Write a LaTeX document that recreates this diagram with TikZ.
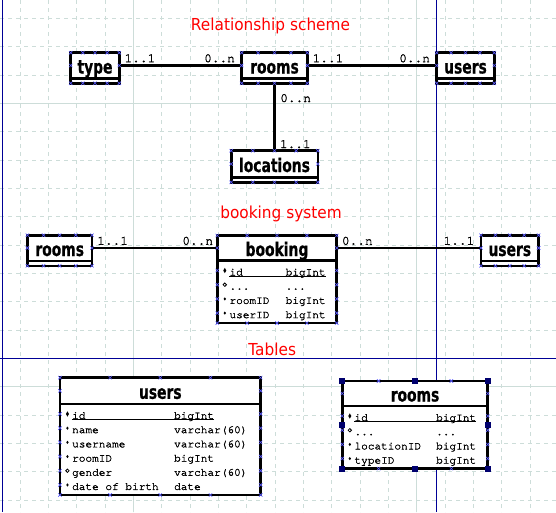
\documentclass[tikz,border=0pt]{standalone}
\usepackage{fontspec}
\usepackage{tikz}
\usetikzlibrary{calc,shapes.geometric}
\newfontfamily\headfont[FakeStretch=0.93]{DejaVu Sans}
\newfontfamily\entfont[FakeStretch=0.73, FakeBold=0.6]{DejaVu Sans Bold}
\newfontfamily\codefont[FakeBold=1.6]{texgyrecursor-regular.otf}
\definecolor{gridcol}{RGB}{205,221,217}
\definecolor{pagecol}{RGB}{0,0,150}
\definecolor{selcol}{RGB}{90,90,255}
\definecolor{gripcol}{RGB}{0,0,110}
\newcommand{\skipdots}{...}

\begin{document}
\begin{tikzpicture}[x=1pt, y=-1pt]
        % Define node styles
        \tikzstyle{entity} = [draw, line width=2.6pt, fill=white, rectangle, inner sep=0pt, outer sep=0pt, minimum height=25.6pt, text height=16pt, text depth=0pt, font=\entfont\fontsize{19pt}{19pt}\selectfont]
        \tikzstyle{boxline} = [line width=2.6pt, fill=white]
        \tikzstyle{link} = [line width=2.5pt]
        \tikzstyle{card} = [inner sep=0pt, font=\codefont\fontsize{12.8pt}{12.8pt}\selectfont]
        \tikzstyle{cardR} = [card, anchor=base west, xshift=4pt, yshift=3.3pt]
        \tikzstyle{cardL} = [card, anchor=base east, xshift=-5.5pt, yshift=3.3pt]
        \tikzstyle{attr} = [inner sep=0pt, anchor=base west, font=\codefont\fontsize{11.1pt}{11.1pt}\selectfont]
        \tikzstyle{heading} = [red, anchor=base, inner sep=0pt, font=\headfont\fontsize{16.5pt}{16.5pt}\selectfont]
        \tikzstyle{mpk} = [diamond, fill, inner sep=0pt, minimum width=3.2pt, minimum height=5.5pt]
        \tikzstyle{mreq} = [diamond, fill, inner sep=0pt, minimum width=2.6pt, minimum height=3.4pt]
        \tikzstyle{mopt} = [circle, draw, line width=0.8pt, inner sep=0pt, minimum size=3.4pt]
        \tikzstyle{gridminor} = [gridcol, line width=0.8pt, dash pattern=on 4pt off 4pt]
        \tikzstyle{gridmajor} = [gridcol, line width=0.9pt]
        \tikzstyle{pagebreak} = [pagecol, line width=0.9pt]
        \tikzset{selx/.pic={\draw[selcol, line width=0.6pt] (-1.7,-1.7) -- (1.7,1.7) (-1.7,1.7) -- (1.7,-1.7);},
                 grip/.pic={\fill[gripcol] (-3,-3) rectangle (3,3);}}

        \useasboundingbox (0,0) rectangle (556,512);
        \fill[white] (0,0) rectangle (556,512);

        % Background grid
        \foreach \i in {-4,...,14}
            \draw[gridminor] ({133.5+28.32*\i},0) -- ({133.5+28.32*\i},512);
        \foreach \i in {-3,...,14}
            \draw[gridminor] (0,{103.5+28.32*\i}) -- (556,{103.5+28.32*\i});
        \foreach \x in {133.5,416.7}
            \draw[gridmajor] (\x,0) -- (\x,512);
        \foreach \y in {103.5,386.7}
            \draw[gridmajor] (0,\y) -- (556,\y);
        \draw[pagebreak] (2.7,0) -- (2.7,512) (436.6,0) -- (436.6,512) (0,358.8) -- (556,358.8);

        % Relationship scheme
        \node[heading] (hRel) at (270.5,30.7) {Relationship scheme};
        \node[entity, minimum width=48.6pt] (type) at (95,65.5) {type};
        \node[entity, minimum width=65.7pt] (rooms) at (274.5,65.5) {rooms};
        \node[entity, minimum width=57.6pt] (users) at (465.5,65.5) {users};
        \node[entity, minimum width=86.6pt, minimum height=26.6pt] (loc) at (274.5,164) {locations};

        % booking system
        \node[heading] (hBook) at (281,218.6) {booking system};
        \node[entity, minimum width=64.6pt] (bRooms) at (59.7,248) {rooms};
        \node[entity, minimum width=119.4pt, minimum height=25pt] (book) at (277,248) {booking};
        \node[entity, minimum width=57.6pt] (bUsers) at (509.8,248) {users};

        % Tables
        \node[heading] (hTab) at (272.2,355.7) {Tables};
        \node[entity, minimum width=200.7pt, minimum height=26.3pt] (tUsers) at (160.3,390.8) {users};
        \node[entity, minimum width=145.4pt, minimum height=25pt] (tRooms) at (415,393.5) {rooms};

        % Lower parts of the boxes
        \foreach \n in {type,rooms,users,loc,bRooms,bUsers} {
            \coordinate (\n-bl) at ([yshift=-5pt]\n.south west);
            \coordinate (\n-br) at ([yshift=-5pt]\n.south east);
        }
        \foreach \n/\h in {book/62.6pt, tUsers/91pt, tRooms/62.6pt} {
            \coordinate (\n-bl) at ([yshift=-\h]\n.south west);
            \coordinate (\n-br) at ([yshift=-\h]\n.south east);
        }
        \foreach \n in {type,rooms,users,loc,bRooms,bUsers,book,tUsers,tRooms}
            \draw[boxline] (\n.south west) rectangle (\n-br);

        % Attribute rows
        \foreach \a/\t/\k [count=\i] in {id/bigInt/mpk, \skipdots/\skipdots/mopt, roomID/bigInt/mreq, userID/bigInt/mreq} {
            \node[attr] (book-a\i) at ([xshift=12pt, yshift={-15pt-(\i-1)*14.2pt}]book.south west) {\a};
            \node[attr] (book-t\i) at ([xshift=68.2pt, yshift={-15pt-(\i-1)*14.2pt}]book.south west) {\t};
            \node[\k] (book-m\i) at ([xshift=-4.5pt, yshift=5pt]book-a\i.base west) {};
            \pic at ($(book.west |- book-a\i.base)+(0,-5)$) {selx};
            \pic at ($(book.east |- book-a\i.base)+(0,-5)$) {selx};
        }
        \foreach \a/\t/\k [count=\i] in {id/bigInt/mpk, name/varchar(60)/mreq, username/varchar(60)/mreq, roomID/bigInt/mreq, gender/varchar(60)/mopt, date of birth/date/mreq} {
            \node[attr] (tUsers-a\i) at ([xshift=12pt, yshift={-15pt-(\i-1)*14.2pt}]tUsers.south west) {\a};
            \node[attr] (tUsers-t\i) at ([xshift=114pt, yshift={-15pt-(\i-1)*14.2pt}]tUsers.south west) {\t};
            \node[\k] (tUsers-m\i) at ([xshift=-4.5pt, yshift=5pt]tUsers-a\i.base west) {};
            \pic at ($(tUsers.west |- tUsers-a\i.base)+(0,-5)$) {selx};
            \pic at ($(tUsers.east |- tUsers-a\i.base)+(0,-5)$) {selx};
        }
        \foreach \a/\t/\k [count=\i] in {id/bigInt/mpk, \skipdots/\skipdots/mopt, locationID/bigInt/mreq, typeID/bigInt/mreq} {
            \node[attr] (tRooms-a\i) at ([xshift=12pt, yshift={-15pt-(\i-1)*14.2pt}]tRooms.south west) {\a};
            \node[attr] (tRooms-t\i) at ([xshift=93.7pt, yshift={-15pt-(\i-1)*14.2pt}]tRooms.south west) {\t};
            \node[\k] (tRooms-m\i) at ([xshift=-4.5pt, yshift=5pt]tRooms-a\i.base west) {};
            \pic at ($(tRooms.west |- tRooms-a\i.base)+(0,-5)$) {selx};
            \pic at ($(tRooms.east |- tRooms-a\i.base)+(0,-5)$) {selx};
        }
        % primary keys underlined
        \foreach \n in {book,tUsers,tRooms}
            \draw[line width=0.8pt] ([yshift=-0.7pt]\n-a1.base west) -- ([yshift=-0.7pt]\n-t1.base east);

        % Draw the connectors
        \draw[link] (type) -- node[cardR, pos=0] (c1) {1..1} node[cardL, pos=1] (c2) {0..n} (rooms);
        \draw[link] (rooms) -- node[cardR, pos=0] (c3) {1..1} node[cardL, pos=1] (c4) {0..n} (users);
        \draw[link] ([yshift=-5pt]rooms.south) --
            node[card, pos=0, anchor=base west, xshift=4.5pt, yshift=-18.7pt] (c5) {0..n}
            node[card, pos=1, anchor=base west, xshift=4.2pt, yshift=2.7pt] (c6) {1..1} (loc);
        \draw[link] (bRooms) -- node[cardR, pos=0] (c7) {1..1} node[cardL, pos=1, xshift=2.5pt] (c8) {0..n} (book);
        \draw[link] (book) -- node[cardR, pos=0] (c9) {0..n} node[cardL, pos=1] (c10) {1..1} (bUsers);

        % Selection marks
        \foreach \n in {type,rooms,users,loc,bRooms,book,bUsers,tUsers,tRooms} {
            \foreach \f in {0,0.25,0.5,0.75,1} {
                \pic at ($(\n.north west)!\f!(\n.north east)$) {selx};
                \pic at ($(\n-bl)!\f!(\n-br)$) {selx};
            }
            \pic at (\n.west) {selx};
            \pic at (\n.east) {selx};
        }
        \foreach \p in {tRooms.north west, tRooms.north, tRooms.north east, tRooms-bl, tRooms-br}
            \pic at (\p) {grip};
        \pic at ($(tRooms-bl)!0.5!(tRooms-br)$) {grip};
        \pic at ($(tRooms.north west)!0.5!(tRooms-bl)$) {grip};
        \pic at ($(tRooms.north east)!0.5!(tRooms-br)$) {grip};
\end{tikzpicture}
\end{document}
